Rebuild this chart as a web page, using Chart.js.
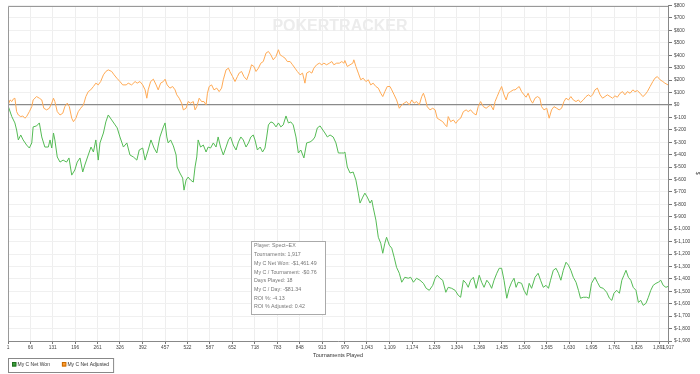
<!DOCTYPE html>
<html>
<head>
<meta charset="utf-8">
<script src="https://cdn.jsdelivr.net/npm/chart.js@4"></script>
<style>
  html, body { margin: 0; padding: 0; background: #fff; }
  canvas { display: block; }
</style>
</head>
<body>
<canvas id="myChart" width="700" height="374"></canvas>
<script>
/* data */
const xTicks = [1, 66, 131, 196, 261, 326, 392, 457, 522, 587, 652, 718, 783, 848, 913, 979, 1043, 1109,
  1174, 1239, 1304, 1369, 1435, 1500, 1565, 1630, 1695, 1761, 1826, 1891, 1917];
const yTicks = [800, 700, 600, 500, 400, 300, 200, 100, 0, -100, -200, -300, -400, -500, -600, -700, -800,
  -900, -1000, -1100, -1200, -1300, -1400, -1500, -1600, -1700, -1800, -1900];

const wonTournaments = [1, 12, 21, 26, 31, 38, 45, 55, 63, 70, 74, 84, 92, 99, 108, 118, 123, 128, 133, 137,
  144, 152, 161, 171, 178, 186, 195, 202, 210, 218, 224, 234, 242, 249, 256, 263, 268, 278, 285, 292,
  302, 312, 318, 326, 336, 346, 355, 365, 375, 382, 392, 399, 408, 416, 425, 433, 442, 452, 457, 462,
  466, 473, 481, 489, 492, 500, 508, 512, 518, 524, 531, 539, 544, 549, 553, 560, 568, 576, 582, 589,
  597, 605, 611, 618, 626, 634, 641, 647, 655, 663, 670, 677, 684, 692, 699, 706, 713, 718, 725, 733,
  740, 747, 752, 757, 764, 771, 779, 786, 793, 800, 808, 815, 822, 829, 837, 844, 851, 860, 868, 878,
  886, 892, 899, 907, 915, 921, 928, 936, 945, 953, 960, 970, 976, 979, 986, 994, 1003, 1011, 1018, 1023,
  1031, 1037, 1044, 1052, 1057, 1061, 1069, 1076, 1083, 1089, 1095, 1100, 1108, 1115, 1122, 1129, 1137, 1144, 1153, 1163,
  1170, 1178, 1187, 1197, 1207, 1215, 1224, 1234, 1241, 1247, 1255, 1263, 1272, 1279, 1289, 1299, 1308, 1315, 1323, 1331,
  1337, 1344, 1352, 1360, 1369, 1376, 1383, 1391, 1398, 1405, 1412, 1420, 1427, 1434, 1441, 1449, 1456, 1463, 1470, 1476,
  1482, 1492, 1499, 1507, 1514, 1521, 1531, 1540, 1547, 1555, 1563, 1570, 1576, 1584, 1592, 1599, 1606, 1613, 1621, 1628,
  1635, 1642, 1650, 1657, 1663, 1671, 1681, 1688, 1695, 1705, 1712, 1720, 1729, 1739, 1747, 1754, 1760, 1768, 1776, 1783,
  1789, 1795, 1802, 1809, 1816, 1824, 1831, 1838, 1845, 1853, 1860, 1867, 1874, 1882, 1889, 1896, 1903, 1911, 1917];
const wonDollars = [-5, -94, -145, -202, -282, -242, -282, -323, -347, -306, -177, -169, -145, -258, -339, -339, -282, -347, -226, -282,
  -419, -460, -444, -460, -427, -565, -524, -460, -427, -540, -484, -403, -339, -379, -282, -444, -306, -226, -137, -81,
  -121, -161, -185, -258, -339, -306, -403, -419, -444, -363, -347, -444, -363, -282, -347, -387, -258, -177, -145, -258,
  -306, -282, -330, -403, -500, -548, -589, -686, -605, -581, -605, -621, -500, -419, -282, -339, -323, -379, -339, -347,
  -306, -339, -258, -339, -403, -339, -282, -258, -323, -363, -298, -258, -282, -339, -306, -258, -242, -282, -363, -339,
  -379, -347, -258, -161, -137, -145, -177, -145, -177, -161, -89, -145, -137, -161, -258, -387, -363, -427, -306, -298,
  -282, -258, -185, -169, -202, -226, -258, -242, -258, -306, -387, -387, -387, -379, -500, -548, -540, -605, -710, -790,
  -742, -710, -742, -790, -766, -823, -927, -1065, -1113, -1194, -1113, -1065, -1129, -1153, -1226, -1307, -1355, -1427, -1387, -1395,
  -1387, -1427, -1395, -1411, -1436, -1476, -1492, -1452, -1395, -1371, -1395, -1411, -1508, -1468, -1476, -1492, -1532, -1548, -1411, -1436,
  -1468, -1411, -1387, -1476, -1371, -1427, -1468, -1411, -1436, -1476, -1411, -1355, -1315, -1315, -1411, -1556, -1476, -1427, -1395, -1468,
  -1427, -1436, -1492, -1532, -1436, -1476, -1387, -1355, -1411, -1468, -1452, -1476, -1411, -1331, -1315, -1355, -1411, -1331, -1266, -1290,
  -1331, -1387, -1427, -1492, -1556, -1548, -1548, -1556, -1436, -1387, -1427, -1468, -1476, -1508, -1556, -1573, -1516, -1492, -1516, -1411,
  -1371, -1331, -1387, -1411, -1468, -1492, -1589, -1573, -1613, -1597, -1548, -1492, -1452, -1436, -1427, -1411, -1452, -1468, -1461];

const adjTournaments = [1, 7, 12, 16, 21, 26, 31, 38, 44, 50, 55, 63, 70, 74, 84, 92, 99, 105, 113, 121,
  128, 133, 137, 144, 152, 160, 166, 173, 179, 186, 191, 198, 205, 212, 220, 227, 234, 241, 249, 256,
  263, 270, 278, 285, 292, 302, 309, 317, 326, 334, 344, 350, 360, 370, 376, 384, 392, 399, 404, 408,
  415, 423, 431, 437, 444, 452, 457, 463, 471, 479, 486, 491, 498, 505, 510, 518, 524, 531, 539, 544,
  549, 556, 563, 570, 576, 580, 585, 592, 599, 607, 614, 621, 626, 634, 641, 645, 653, 660, 667, 672,
  679, 686, 694, 701, 708, 715, 721, 728, 735, 742, 750, 757, 764, 771, 779, 786, 791, 798, 805, 812,
  820, 827, 834, 841, 849, 856, 863, 868, 876, 883, 889, 897, 905, 912, 918, 926, 934, 941, 947, 955,
  963, 970, 976, 979, 986, 994, 1002, 1005, 1011, 1018, 1025, 1032, 1040, 1047, 1054, 1061, 1069, 1076, 1083, 1089,
  1095, 1102, 1110, 1115, 1122, 1129, 1137, 1144, 1151, 1158, 1166, 1173, 1180, 1187, 1195, 1202, 1207, 1212, 1218, 1226,
  1234, 1241, 1247, 1255, 1263, 1270, 1275, 1279, 1286, 1294, 1301, 1308, 1315, 1323, 1331, 1337, 1344, 1352, 1360, 1366,
  1373, 1381, 1389, 1395, 1402, 1410, 1415, 1421, 1427, 1434, 1441, 1447, 1453, 1460, 1468, 1473, 1479, 1485, 1492, 1499,
  1505, 1511, 1518, 1524, 1531, 1538, 1545, 1550, 1557, 1565, 1572, 1579, 1586, 1594, 1601, 1608, 1615, 1621, 1628, 1635,
  1642, 1650, 1657, 1663, 1671, 1679, 1686, 1693, 1698, 1705, 1712, 1720, 1727, 1734, 1741, 1749, 1756, 1763, 1770, 1778,
  1785, 1792, 1799, 1807, 1815, 1821, 1828, 1836, 1844, 1850, 1857, 1865, 1873, 1879, 1886, 1894, 1902, 1908, 1917];
const adjDollars = [-5, 40, 27, 46, 54, -54, -81, -94, -89, -107, -94, -54, -14, 40, 67, 54, 40, -27, -40, -27,
  14, 54, 27, -54, -81, -67, -14, 14, -14, -107, -135, -107, -54, -27, 0, 67, 107, 121, 148, 175,
  161, 188, 242, 269, 282, 269, 242, 215, 188, 161, 161, 175, 161, 188, 175, 188, 161, 121, 54, 121,
  188, 207, 161, 121, 175, 188, 207, 161, 135, 148, 121, 81, 54, 14, -40, -27, 27, 14, 27, -40,
  -14, 54, 27, 27, 0, 94, 148, 161, 121, 135, 107, 135, 202, 282, 296, 269, 228, 188, 228, 256,
  269, 228, 202, 256, 323, 309, 269, 296, 336, 349, 417, 430, 403, 363, 390, 444, 403, 390, 377, 349,
  349, 323, 296, 269, 242, 256, 175, 256, 269, 256, 296, 323, 336, 323, 336, 323, 336, 349, 323, 336,
  336, 349, 336, 357, 309, 323, 336, 363, 309, 256, 202, 215, 188, 202, 161, 175, 148, 135, 94, 67,
  107, 148, 148, 121, 81, 40, -27, 0, 14, 27, 0, 40, 14, 27, 0, 67, 94, 54, -14, -40,
  -27, -40, -107, -121, -135, -161, -175, -94, -135, -121, -148, -121, -107, -54, -40, -54, -40, -67, -81, -14,
  27, -14, -27, -14, 0, -40, 27, 67, 107, 148, 81, 40, 94, 107, 121, 121, 135, 148, 107, 81,
  62, 94, 40, 14, 54, 67, 54, -14, -40, -27, -107, -40, -14, -27, -40, -27, 27, 54, 40, 67,
  40, 27, 40, 19, 40, 67, 81, 67, 81, 121, 135, 81, 54, 67, 81, 67, 54, 73, 62, 94,
  107, 81, 107, 94, 121, 107, 115, 94, 67, 81, 107, 148, 188, 215, 228, 202, 188, 175, 161];

const infoLines = ['Player: Spect~EX', 'Tournaments: 1,917', 'My C Net Won: -$1,461.49', 'My C / Tournament: -$0.76',
  'Days Played: 18', 'My C / Day: -$81.34', 'ROI %: -4.13', 'ROI % Adjusted: 0.42'];

const FONT = "'Liberation Sans', Arial, sans-serif";
Chart.defaults.font.family = FONT;

function points(xs, ys) {
    return xs.map((t, i) => ({ x: t, y: ys[i] }));
}

// frame, watermark, stat box and legend box
const extras = {
    id: 'extras',
    beforeDatasetsDraw(chart) {
        const ctx = chart.ctx;
        ctx.save();
        ctx.font = 'bold 16px ' + FONT;
        ctx.fillStyle = '#ececec';
        ctx.textAlign = 'center';
        ctx.textBaseline = 'middle';
        ctx.fillText('POKERTRACKER', 340, 27);
        ctx.restore();
    },
    afterDraw(chart) {
        const ctx = chart.ctx;
        const a = chart.chartArea;
        ctx.save();
        ctx.strokeStyle = '#999';
        ctx.lineWidth = 1;
        ctx.beginPath();
        ctx.moveTo(Math.round(a.left) + 0.5, Math.round(a.bottom));
        ctx.lineTo(Math.round(a.left) + 0.5, Math.round(a.top) + 0.5);
        ctx.lineTo(Math.round(a.right), Math.round(a.top) + 0.5);
        ctx.stroke();

        // stat box
        ctx.fillStyle = '#fff';
        ctx.fillRect(251.5, 241.5, 74, 73);
        ctx.strokeStyle = '#aaa';
        ctx.strokeRect(251.5, 241.5, 74, 73);
        ctx.fillStyle = '#777';
        ctx.font = '5.3px ' + FONT;
        ctx.textBaseline = 'middle';
        infoLines.forEach((s, i) => ctx.fillText(s, 254, 246 + i * 8.7));

        // legend
        ctx.font = '5px ' + FONT;
        let x = 12;
        chart.data.datasets.forEach(ds => {
            ctx.fillStyle = ds.legendFill;
            ctx.fillRect(x, 362.5, 4, 4);
            ctx.strokeStyle = ds.legendEdge;
            ctx.strokeRect(x + 0.5, 362.5, 3.5, 3.5);
            ctx.fillStyle = '#333';
            ctx.fillText(ds.label, x + 5.5, 364.5);
            x += 5.5 + ctx.measureText(ds.label).width + 12;
        });
        ctx.strokeStyle = '#888';
        ctx.strokeRect(8.5, 358.5, x - 8 - 8, 14);
        ctx.restore();
    }
};

var ctx = document.getElementById('myChart').getContext('2d');
var chart = new Chart(ctx, {
    type: 'line',
    data: {
        datasets: [
            {
                label: 'My C Net Won',
                data: points(wonTournaments, wonDollars),
                borderColor: '#55bb55',
                legendFill: '#3a9d3a',
                legendEdge: '#1f6e1f'
            },
            {
                label: 'My C Net Adjusted',
                data: points(adjTournaments, adjDollars),
                borderColor: '#ffaa55',
                legendFill: '#ff9a2e',
                legendEdge: '#c76a00'
            }
        ]
    },
    options: {
        responsive: false,
        animation: false,
        devicePixelRatio: 1,
        layout: { padding: { left: 8, right: 0, top: 5.5, bottom: 15 } },
        elements: {
            point: { radius: 0 },
            line: { borderWidth: 1, tension: 0 }
        },
        plugins: {
            legend: { display: false },
            tooltip: { enabled: false }
        },
        scales: {
            x: {
                type: 'linear',
                min: 1,
                max: 1917,
                afterBuildTicks: s => { s.ticks = xTicks.map(v => ({ value: v })); },
                afterFit: s => { s.height = 18; },
                ticks: {
                    autoSkip: false,
                    maxRotation: 0,
                    padding: 1,
                    color: '#444',
                    font: { size: 4.8 },
                    callback: v => v.toLocaleString('en-US')
                },
                grid: { color: '#eeeeee', tickColor: '#777', tickLength: 3 },
                border: { color: '#888' },
                title: { display: true, text: 'Tournaments Played', color: '#333', font: { size: 5.5 }, padding: 0 }
            },
            y: {
                position: 'right',
                min: -1900,
                max: 800,
                afterBuildTicks: s => { s.ticks = yTicks.map(v => ({ value: v })); },
                afterFit: s => { s.width = 32; },
                ticks: {
                    autoSkip: false,
                    padding: 2,
                    color: '#444',
                    font: { size: 4.8 },
                    callback: v => '$' + v.toLocaleString('en-US')
                },
                grid: {
                    color: c => (c.tick && c.tick.value === 0) ? '#8a8a8a' : '#f0f0f0',
                    lineWidth: c => (c.tick && c.tick.value === 0) ? 1.3 : 1,
                    tickColor: '#777',
                    tickLength: 4
                },
                border: { color: '#888' },
                title: { display: true, text: '$', color: '#333', font: { size: 5 }, padding: 0 }
            }
        }
    },
    plugins: [extras]
});
</script>
</body>
</html>
